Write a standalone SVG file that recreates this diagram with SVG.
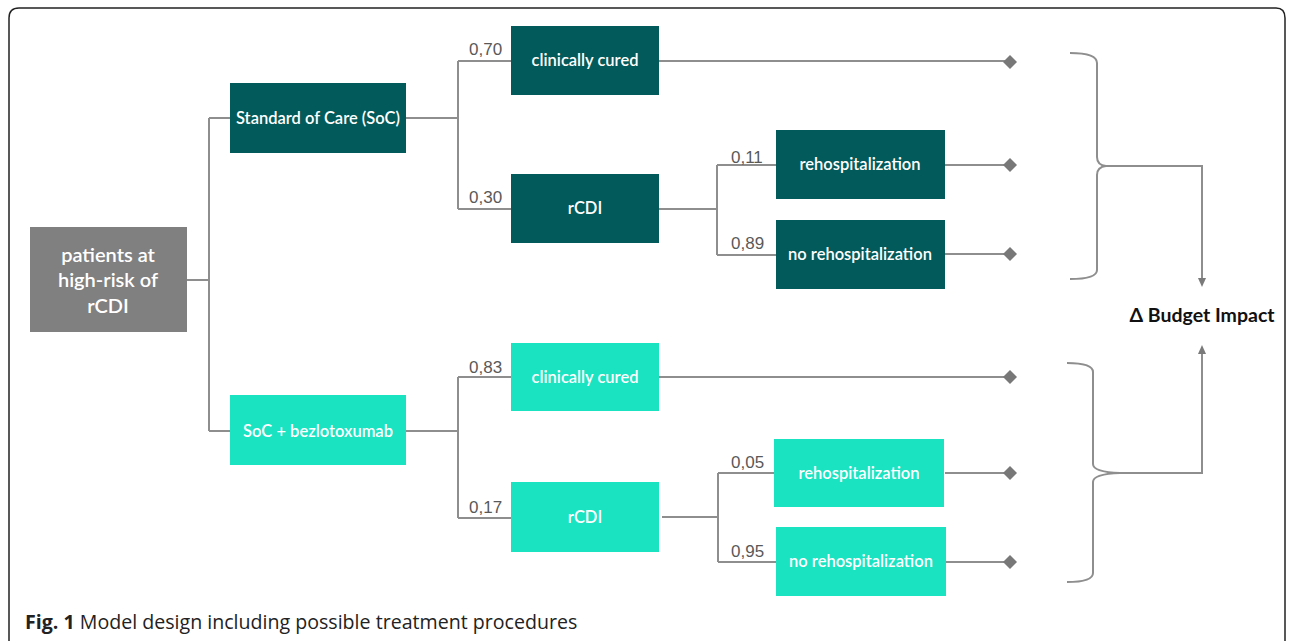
<svg xmlns="http://www.w3.org/2000/svg" width="1292" height="641" viewBox="0 0 1292 641">
<style>
.dark{fill:#025a5a}
.light{fill:#19e3c1}
.lbl{font-family:Lato,"Liberation Sans",sans-serif;font-size:16.5px;font-weight:600;fill:#ffffff;text-anchor:middle}
.num{font-family:"Liberation Sans",Arial,sans-serif;font-size:17px;fill:#595959}
.ln{fill:none;stroke:#8e8e8e;stroke-width:2}
.dia{fill:#787878}
</style>
<defs>
<marker id="arr" markerWidth="10" markerHeight="10" refX="5" refY="5" orient="auto" markerUnits="userSpaceOnUse">
<path d="M0,1 L9,5 L0,9 Z" fill="#7a7a7a"/>
</marker>
</defs>
<rect x="0" y="0" width="1292" height="641" fill="#ffffff"/>
<path d="M9,660 L9,18 Q9,8 19,8 L1276,8 Q1285,8 1285,18 L1285,660" fill="none" stroke="#222" stroke-width="1.5"/>

<g id="connectors">
<path class="ln" d="M187,280 H209 M209,118 V431 M209,118 H230 M209,431 H230"/>
<path class="ln" d="M406,118 H458 M458,61 V209 M458,61 H511 M458,209 H511"/>
<path class="ln" d="M659,209 H717 M717,165 V255 M717,165 H776 M717,255 H776"/>
<path class="ln" d="M659,61 H1005 M945,165 H1005 M945,254 H1005"/>
<path class="ln" d="M406,431 H458 M458,377 V518 M458,377 H511 M458,518 H511"/>
<path class="ln" d="M662,517 H718 M718,473 V562 M718,473 H776 M718,562 H776"/>
<path class="ln" d="M659,377 H1005 M945,473 H1005 M946,562 H1005"/>
<path class="ln" d="M1070,53 Q1097,53 1097,63 V157 Q1097,165 1106,166 Q1097,167 1097,175 V270 Q1097,279 1070,279"/>
<path class="ln" d="M1106,166 H1202 V283" marker-end="url(#arr)"/>
<path class="ln" d="M1067,363 Q1093,363 1093,372 V464 Q1093,472 1120,473 Q1093,474 1093,482 V573 Q1093,582 1067,582"/>
<path class="ln" d="M1120,473 H1202 V349" marker-end="url(#arr)"/>
<path class="dia" d="M1010,55 L1017,62 L1010,69 L1003,62 Z"/>
<path class="dia" d="M1010,158 L1017,165 L1010,172 L1003,165 Z"/>
<path class="dia" d="M1010,247 L1017,254 L1010,261 L1003,254 Z"/>
<path class="dia" d="M1010,370 L1017,377 L1010,384 L1003,377 Z"/>
<path class="dia" d="M1010,466 L1017,473 L1010,480 L1003,473 Z"/>
<path class="dia" d="M1010,555 L1017,562 L1010,569 L1003,562 Z"/>
<text class="num" x="469" y="55">0,70</text>
<text class="num" x="469" y="203">0,30</text>
<text class="num" x="731" y="163">0,11</text>
<text class="num" x="731" y="249">0,89</text>
<text class="num" x="469" y="373">0,83</text>
<text class="num" x="469" y="513">0,17</text>
<text class="num" x="731" y="468">0,05</text>
<text class="num" x="731" y="557">0,95</text>
</g>

<g id="root">
<rect x="30" y="227" width="157" height="105" fill="#808080"/>
<text class="lbl" x="108" y="262" style="font-size:20px">patients at</text>
<text class="lbl" x="108" y="287" style="font-size:20px">high-risk of</text>
<text class="lbl" x="108" y="313" style="font-size:20px">rCDI</text>
</g>
<g id="soc"><rect class="dark" x="230" y="83" width="176" height="70"/><text class="lbl" x="318" y="124">Standard of Care (SoC)</text></g>
<g id="bez"><rect class="light" x="230" y="395" width="176" height="70"/><text class="lbl" x="318" y="437">SoC + bezlotoxumab</text></g>
<g id="cured1"><rect class="dark" x="511" y="26" width="148" height="69"/><text class="lbl" x="585" y="66">clinically cured</text></g>
<g id="rcdi1"><rect class="dark" x="511" y="174" width="148" height="69"/><text class="lbl" x="585" y="214">rCDI</text></g>
<g id="rehosp1"><rect class="dark" x="776" y="130" width="169" height="69"/><text class="lbl" x="860" y="170">rehospitalization</text></g>
<g id="norehosp1"><rect class="dark" x="776" y="220" width="169" height="69"/><text class="lbl" x="860" y="260">no rehospitalization</text></g>
<g id="cured2"><rect class="light" x="511" y="343" width="148" height="68"/><text class="lbl" x="585" y="383">clinically cured</text></g>
<g id="rcdi2"><rect class="light" x="511" y="482" width="148" height="70"/><text class="lbl" x="585" y="523">rCDI</text></g>
<g id="rehosp2"><rect class="light" x="774" y="439" width="170" height="68"/><text class="lbl" x="859" y="479">rehospitalization</text></g>
<g id="norehosp2"><rect class="light" x="776" y="527" width="170" height="69"/><text class="lbl" x="861" y="567">no rehospitalization</text></g>
<g id="budget"><text x="1202" y="322" font-family="Lato,'Liberation Sans',sans-serif" font-weight="bold" font-size="19.5" fill="#111" text-anchor="middle">Δ Budget Impact</text></g>
<g id="caption"><text x="25" y="629" font-family="'Open Sans','Noto Sans',sans-serif" font-size="19.6" fill="#222"><tspan font-weight="bold">Fig. 1</tspan> Model design including possible treatment procedures</text></g>
</svg>
